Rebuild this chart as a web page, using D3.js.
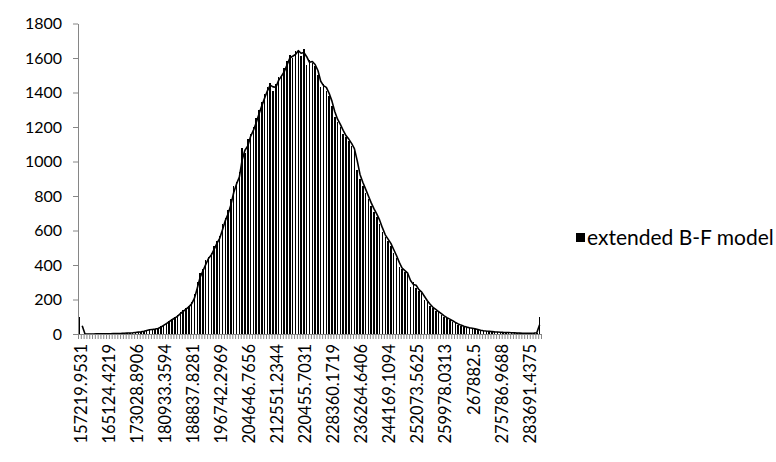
<!DOCTYPE html>
<html>
<head>
<meta charset="utf-8">
<script src="https://cdn.jsdelivr.net/npm/d3@7"></script>
<style>
  html, body { margin: 0; padding: 0; background: #fff; }
  svg { display: block; }
  text { font-family: Lato, "Open Sans", sans-serif; fill: #000; }
</style>
</head>
<body>
<svg id="chart" width="776" height="462"></svg>
<script>
// ---- data ----
const tickLabels = ["157219.9531","165124.4219","173028.8906","180933.3594","188837.8281",
  "196742.2969","204646.7656","212551.2344","220455.7031","228360.1719","236264.6406",
  "244169.1094","252073.5625","259978.0313","267882.5","275786.9688","283691.4375"];
const labelEvery = 10;
const counts = [
  97, 0, 0, 0, 0, 0, 1, 0, 1, 1,
  1, 2, 2, 3, 3, 4, 5, 6, 6, 8,
  10, 12, 14, 18, 23, 26, 27, 30, 33, 45,
  55, 66, 77, 88, 97, 110, 125, 138, 150, 165,
  185, 230, 300, 355, 375, 430, 445, 470, 510, 540,
  570, 640, 675, 720, 780, 860, 880, 940, 1080, 1050,
  1130, 1160, 1200, 1250, 1300, 1345, 1390, 1430, 1455, 1410,
  1450, 1490, 1500, 1540, 1580, 1620, 1600, 1640, 1645, 1610,
  1655, 1560, 1590, 1570, 1555, 1500, 1430, 1450, 1410, 1380,
  1320, 1260, 1230, 1200, 1160, 1140, 1120, 1090, 1060, 950,
  900, 860, 820, 780, 740, 710, 680, 640, 590, 560,
  540, 510, 470, 440, 390, 375, 360, 345, 275, 300,
  265, 250, 235, 200, 185, 160, 150, 135, 125, 110,
  100, 90, 82, 72, 62, 55, 48, 42, 38, 35,
  32, 28, 24, 20, 18, 16, 15, 13, 12, 11,
  10, 9, 9, 8, 7, 6, 5, 5, 4, 4,
  4, 5, 6, 8, 100
];
const yTicks = [0, 200, 400, 600, 800, 1000, 1200, 1400, 1600, 1800];
const seriesName = "extended B-F model";

// ---- layout ----
const svg = d3.select("#chart");
const plotLeft = 78, plotRight = 541, plotTop = 23.5, plotBottom = 334;
const n = counts.length;
const idx = d3.range(n);

const x = d3.scaleBand().domain(idx).range([plotLeft, plotRight]).paddingInner(0).paddingOuter(0);
const xEdge = d3.scaleLinear().domain([0, n]).range([plotLeft, plotRight]);
const y = d3.scaleLinear().domain([0, 1800]).range([plotBottom, plotTop]);
const axisColor = "#868686";

// bars
const bw = x.bandwidth();
const barW = 1.5;
svg.append("g").attr("shape-rendering", "crispEdges")
  .selectAll("rect").data(idx).join("rect")
  .attr("x", i => x(i) + (bw - barW) / 2)
  .attr("y", i => y(counts[i]))
  .attr("width", barW)
  .attr("height", i => y(0) - y(counts[i]))
  .attr("fill", "#000");

// 2-period moving-average trendline (as drawn by the spreadsheet)
const trend = idx.slice(1).map(i => ({ i, v: (counts[i - 1] + counts[i]) / 2 }));
svg.append("path")
  .datum(trend)
  .attr("fill", "none")
  .attr("stroke", "#000")
  .attr("stroke-width", 1.6)
  .attr("stroke-linejoin", "round")
  .attr("d", d3.line().x(d => x(d.i) + bw / 2).y(d => y(d.v)));

// x axis: tick marks between categories
const gxTicks = svg.append("g").attr("transform", `translate(0,${plotBottom})`)
  .call(d3.axisBottom(xEdge).tickValues(d3.range(n + 1)).tickSize(5).tickSizeOuter(0).tickFormat(""));
gxTicks.selectAll("line").attr("stroke", axisColor);
gxTicks.select(".domain").attr("stroke", axisColor);

// x axis labels every 10 categories
const gxLab = svg.append("g").attr("transform", `translate(0,${plotBottom})`)
  .call(d3.axisBottom(x)
    .tickValues(idx.filter(i => i % labelEvery === 0 && tickLabels[i / labelEvery] !== undefined))
    .tickSize(0)
    .tickFormat(i => tickLabels[i / labelEvery]));
gxLab.select(".domain").remove();
gxLab.selectAll("text")
  .attr("font-family", "Lato, 'Open Sans', sans-serif")
  .attr("font-size", 16.5)
  .attr("transform", "rotate(-90)")
  .attr("text-anchor", "end")
  .attr("x", -10)
  .attr("y", 1.5)
  .attr("dy", "0.35em");

// y axis
const gy = svg.append("g").attr("transform", `translate(${plotLeft},0)`)
  .call(d3.axisLeft(y).tickValues(yTicks).tickSize(5).tickSizeOuter(0).tickPadding(11)
    .tickFormat(d3.format("d")));
gy.select(".domain").attr("stroke", axisColor);
gy.selectAll("line").attr("stroke", axisColor);
gy.selectAll("text")
  .attr("font-family", "Lato, 'Open Sans', sans-serif")
  .attr("font-size", 16);

// legend
const lg = svg.append("g").attr("transform", "translate(576,233)");
lg.append("rect").attr("width", 9).attr("height", 9).attr("fill", "#000");
lg.append("text").attr("x", 11).attr("y", 4.5).attr("dy", "0.35em")
  .attr("font-size", 21).text(seriesName);
</script>
</body>
</html>
